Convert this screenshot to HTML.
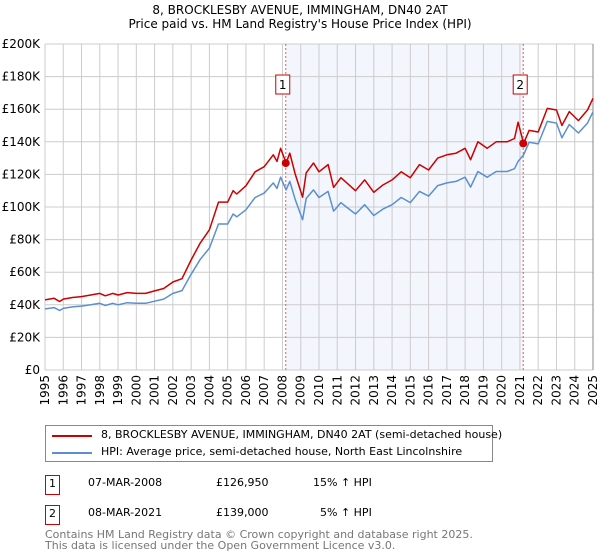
<!DOCTYPE html>
<html><head><meta charset="utf-8"><style>
body{margin:0;background:#fff;font-family:"DejaVu Sans","Liberation Sans",sans-serif;}
#wrap{position:relative;width:600px;height:560px;overflow:hidden}
.t{position:absolute;font-size:12px;color:#000;white-space:nowrap}
</style></head><body><div id="wrap">
<svg id="svg" width="600" height="560" style="position:absolute;left:0;top:0"></svg>
</div>
<script>
const years=[1995,1995.5,1995.8,1996,1996.5,1997,1997.5,1998,1998.3,1998.7,1999,1999.5,2000,2000.5,2001,2001.5,2002,2002.5,2003,2003.5,2004,2004.5,2005,2005.3,2005.5,2006,2006.5,2007,2007.5,2007.7,2007.9,2008.2,2008.4,2008.7,2009.1,2009.3,2009.7,2010,2010.5,2010.8,2011.2,2011.5,2012,2012.5,2013,2013.5,2014,2014.5,2015,2015.5,2016,2016.5,2017,2017.5,2018,2018.3,2018.7,2019.2,2019.7,2020.3,2020.7,2020.9,2021.2,2021.5,2022,2022.5,2023,2023.3,2023.7,2024.2,2024.7,2025];
const propertyValues=[43,44,42,43.5,44.5,45,46,47,45.5,47,46,47.5,47,47,48.5,50,54,56,67.5,78,86,103,103,110,108,113,121.6,124.7,132,128,136,127,133,120,106,121,127,121.6,126,112,118,115,110,116.6,109,113.5,116.6,121.6,118,126,122.7,130,132,133,136,129,140,136,140,140,142,152,139,147,146,160.5,159.5,150,158.5,153,159.5,166.7];
const hpiValues=[37.5,38.3,36.5,37.8,38.7,39.2,40,40.9,39.6,40.9,40,41.3,40.9,40.9,42.2,43.5,47,48.7,58.7,67.9,74.8,89.6,89.6,95.7,94,98.3,105.8,108.5,114.8,111.4,118.3,110.5,115.7,104.4,92.2,105.3,110.5,105.8,109.6,97.4,102.7,100,95.7,101.4,94.8,98.7,101.4,105.8,102.7,109.6,106.7,113.1,114.8,115.7,118.3,112.2,121.8,118.3,121.8,121.8,123.5,128,132,139.7,138.7,152.5,151.5,142.5,150.6,145.4,151.5,158.4];
const yTicks=[0,20,40,60,80,100,120,140,160,180,200];
const yTickLabels=["£0","£20K","£40K","£60K","£80K","£100K","£120K","£140K","£160K","£180K","£200K"];
const xTicks=[1995,1996,1997,1998,1999,2000,2001,2002,2003,2004,2005,2006,2007,2008,2009,2010,2011,2012,2013,2014,2015,2016,2017,2018,2019,2020,2021,2022,2023,2024,2025];
const saleYears=[2008.18,2021.18];
const saleValues=[126.95,139];
const saleLabels=["1","2"];

const L=45,R=593,T=44,B=370;
const X=v=>L+(v-1995)/30*(R-L);
const Y=v=>B-v/200*(B-T);
const svg=document.getElementById('svg');const NS='http://www.w3.org/2000/svg';
function mk(tag,at,parent){const e=document.createElementNS(NS,tag);for(const k in at)e.setAttribute(k,at[k]);(parent||svg).appendChild(e);return e;}
let e;
e=mk('rect',{x:X(saleYears[0]),y:T,width:X(saleYears[1])-X(saleYears[0]),height:B-T,fill:'#eef2fc',opacity:0.7});


xTicks.forEach(v=>{
 e=mk('line',{x1:X(v),x2:X(v),y1:T,y2:B,stroke:'#cccccc','stroke-width':1});
 
 
 e=mk('text',{x:0,y:0,transform:`translate(${X(v)+4},${375}) rotate(-90)`,'text-anchor':'end','font-size':12,fill:'#000'});
 e.textContent=v;
 
 
});
yTicks.forEach((v,i)=>{
 e=mk('line',{x1:L,x2:R,y1:Y(v),y2:Y(v),stroke:'#cccccc','stroke-width':1});
 
 
 e=mk('text',{x:L-5,y:Y(v)+4,'text-anchor':'end','font-size':12,fill:'#000'});
 e.textContent=yTickLabels[i];
 
 
});
e=mk('line',{x1:R,x2:R,y1:T,y2:B,stroke:'#888','stroke-width':1});


saleYears.forEach(v=>{
 e=mk('line',{x1:X(v),x2:X(v),y1:T,y2:B,stroke:'#ee5555','stroke-width':1,'stroke-dasharray':'2,2'});
 
 
});
function path(vals,col,name){
 const d=vals.map((v,i)=>(i?'L':'M')+X(years[i]).toFixed(1)+','+Y(v).toFixed(1)).join('');
 e=mk('path',{d:d,fill:'none',stroke:col,'stroke-width':1.5,'stroke-linejoin':'round'});
 
 
}
path(hpiValues,'#5b8fd0','hpi-line');
path(propertyValues,'#cc0000','property-price-line');
saleYears.forEach((v,i)=>{
 e=mk('circle',{cx:X(v),cy:Y(saleValues[i]),r:4,fill:'#cc0000'});
 
 
 e=mk('rect',{x:X(v)-10,y:75,width:14,height:19,fill:'#fff',stroke:'#cc0000','stroke-width':1});
 
 
 e=mk('text',{x:X(v)-3,y:89,'text-anchor':'middle','font-size':12,fill:'#000'});
 e.textContent=saleLabels[i];
 
 
});
</script>
<div class="t" style="left:0;width:600px;text-align:center;top:3px">8, BROCKLESBY AVENUE, IMMINGHAM, DN40 2AT<br>Price paid vs. HM Land Registry's House Price Index (HPI)</div>
<div style="position:absolute;left:45px;top:425px;width:446px;height:35px;border:1px solid #888;background:#fff">
 <div style="position:absolute;left:6px;top:9px;width:40px;height:2px;background:#cc0000"></div>
 <div class="t" style="left:55px;top:2px;font-size:11px">8, BROCKLESBY AVENUE, IMMINGHAM, DN40 2AT (semi-detached house)</div>
 <div style="position:absolute;left:6px;top:26px;width:40px;height:2px;background:#5b8fd0"></div>
 <div class="t" style="left:55px;top:19px;font-size:11px">HPI: Average price, semi-detached house, North East Lincolnshire</div>
</div>
<div style="position:absolute;left:45px;top:475px;width:13px;height:18px;border:1px solid #cc0000"><div class="t" style="left:3px;top:1px;font-size:11px">1</div></div>
<div class="t" style="left:88px;top:476px;font-size:11px">07-MAR-2008</div>
<div class="t" style="left:216px;top:476px;font-size:11px">£126,950</div>
<div class="t" style="left:313px;top:476px;font-size:11px">15% ↑ HPI</div>
<div style="position:absolute;left:45px;top:505px;width:13px;height:18px;border:1px solid #cc0000"><div class="t" style="left:3px;top:1px;font-size:11px">2</div></div>
<div class="t" style="left:88px;top:506px;font-size:11px">08-MAR-2021</div>
<div class="t" style="left:216px;top:506px;font-size:11px">£139,000</div>
<div class="t" style="left:320px;top:506px;font-size:11px">5% ↑ HPI</div>
<div class="t" style="left:45px;top:529px;font-size:11px;color:#777;line-height:11px">Contains HM Land Registry data © Crown copyright and database right 2025.<br>This data is licensed under the Open Government Licence v3.0.</div>
</body></html>
